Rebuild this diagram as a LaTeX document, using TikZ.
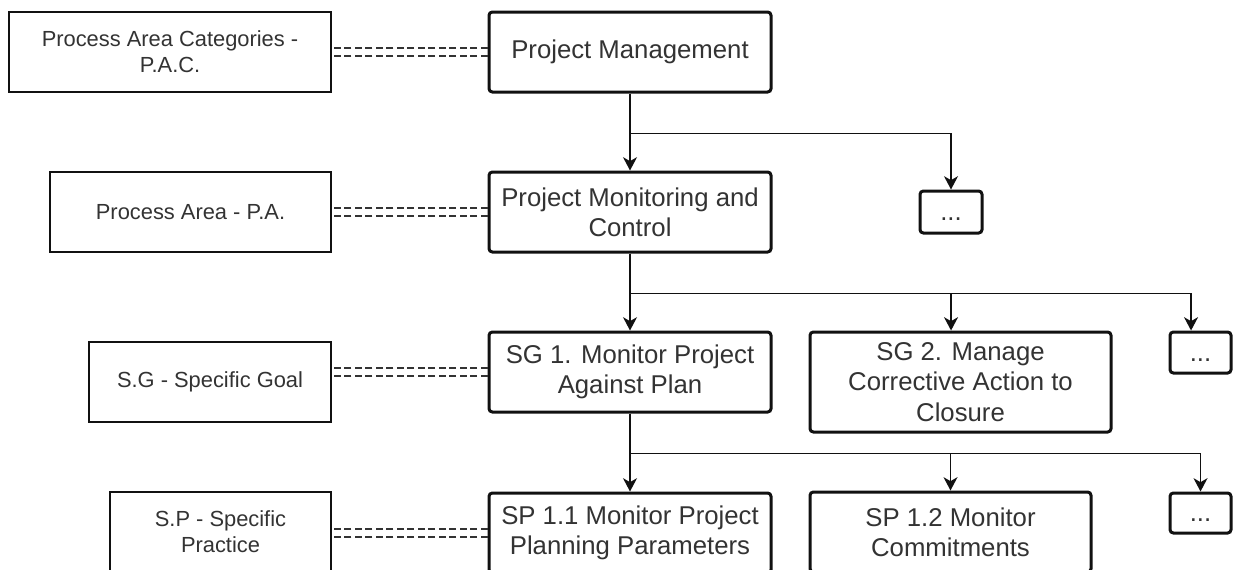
\documentclass[tikz,border=0pt]{standalone}
\usepackage{fontspec}
\setmainfont{Liberation Sans}
\usetikzlibrary{arrows.meta}

\definecolor{ink}{HTML}{333333}
\definecolor{rule}{HTML}{111111}

\tikzset{
  labelbox/.style={draw=rule, line width=1.1pt, fill=white, text=ink,
    font=\fontsize{16.4}{19.6}\selectfont, align=center, inner sep=0pt},
  levelbox/.style={draw=rule, line width=2.25pt, rounded corners=2.5pt, fill=white,
    text=ink, font=\fontsize{19.3}{22.6}\selectfont, align=center, inner sep=0pt},
  arr/.style={draw=rule, line width=1.1pt,
    -{Stealth[length=10pt, width=10.5pt, inset=3pt]}},
  linkline/.style={draw=ink, line width=1.1pt, dash pattern=on 5.25pt off 2.6pt},
}

% box from its pixel corners (x1,y1)-(x2,y2)
\newcommand\mkbox[7]{%
  \node[#2, minimum width={(#5-#3)*0.75pt}, minimum height={(#6-#4)*0.75pt}]
    (#1) at ({(#3+#5)/2},{(#4+#6)/2}) {#7};}
% placeholder text, set on the baseline of a capital line
\newcommand\moretext{\vphantom{A}...}

\begin{document}
\begin{tikzpicture}[x=0.75pt, y=-0.75pt]
\useasboundingbox (0,0) rectangle (1234,569);
\clip (0,0) rectangle (1234,569);

% level names on the left
\mkbox{pac}{labelbox}{9}{12}{331}{92}{Process Area Categories -\\P.A.C.}
\mkbox{pa}{labelbox}{50}{172}{331}{252}{Process Area - P.A.}
\mkbox{sg}{labelbox}{89}{342}{331}{422}{S.G - Specific Goal}
\mkbox{sp}{labelbox}{110}{492}{331}{572}{S.P - Specific\\Practice}

% hierarchy
\mkbox{pm}{levelbox}{489}{12}{771}{92}{Project Management}
\mkbox{pmc}{levelbox}{489}{172}{771}{252}{Project Monitoring and\\Control}
\mkbox{moreA}{levelbox}{920}{191}{982}{233}{\moretext}
\mkbox{sgone}{levelbox}{489}{332}{771}{412}{SG 1. Monitor Project\\Against Plan}
\mkbox{sgtwo}{levelbox}{810}{332}{1111}{432}{SG 2. Manage\\Corrective Action to\\Closure}
\mkbox{moreB}{levelbox}{1170}{332}{1231}{373}{\moretext}
\mkbox{spone}{levelbox}{489}{493}{771}{573}{SP 1.1 Monitor Project\\Planning Parameters}
\mkbox{sptwo}{levelbox}{810}{492}{1091}{572}{SP 1.2 Monitor\\Commitments}
\mkbox{moreC}{levelbox}{1170}{493}{1231}{533}{\moretext}

% double dashed links between level names and examples
\foreach \a/\b in {pac/pm, pa/pmc, sg/sgone, sp/spone}{
  \draw[linkline] ([yshift=3pt]\b.west) -- ([yshift=3pt]\b.west -| \a.east);
  \draw[linkline] ([yshift=-3pt]\b.west) -- ([yshift=-3pt]\b.west -| \a.east);
}

% tree connectors
\draw[arr] (pm) -- (pmc);
\draw[arr] (pm.south) -- ++(0,40) -| (moreA.north);

\draw[arr] (pmc) -- (sgone);
\draw[arr] (pmc.south) -- ++(0,40) -| ([xshift=-7.1pt]sgtwo.north);
\draw[arr] (pmc.south) -- ++(0,40) -| ([xshift=-7.1pt]moreB.north);

\draw[arr] (sgone) -- (spone);
\draw[arr] (sgone.south) -- ++(0,40) -| (sptwo.north);
\draw[arr] (sgone.south) -- ++(0,40) -| (moreC.north);
\end{tikzpicture}
\end{document}
